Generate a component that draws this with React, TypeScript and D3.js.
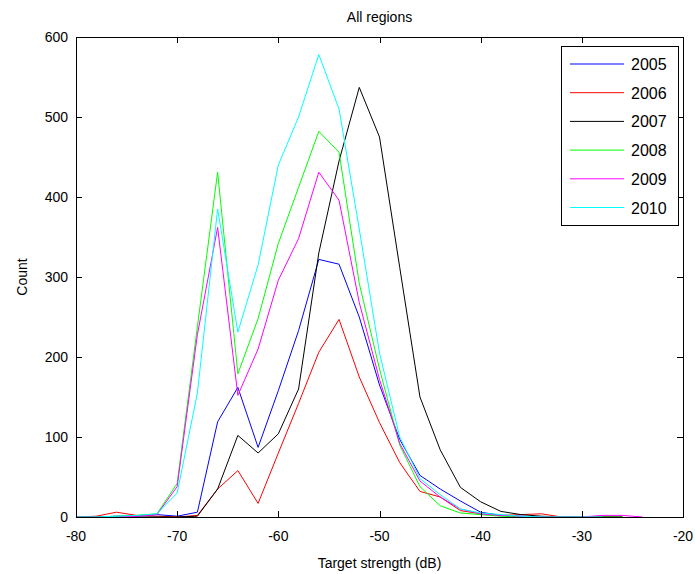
import React, { useEffect, useRef } from "react";
import * as d3 from "d3";

// bin centres (dB), 2 dB wide
const bins = [
  -80, -78, -76, -74, -72, -70, -68, -66, -64, -62, -60, -58, -56, -54, -52,
  -50, -48, -46, -44, -42, -40, -38, -36, -34, -32, -30, -28, -26, -24,
];

const years = ["2005", "2006", "2007", "2008", "2009", "2010"];
const colors = ["#0000ff", "#ff0000", "#000000", "#00ff00", "#ff00ff", "#00ffff"];

const counts2005 = [0, 0, 1, 1, 3, 1, 6, 119, 162, 87, 158, 233, 322, 316, 250, 165, 97, 52, 35, 20, 6, 2, 1, 0, 0, 0, 0, 0];
const counts2006 = [0, 1, 6, 2, 1, 0, 2, 35, 58, 17, 80, 142, 206, 247, 175, 118, 68, 32, 25, 8, 4, 2, 3, 4, 0, 0, 0, 0];
const counts2007 = [0, 0, 0, 0, 0, 0, 1, 35, 102, 80, 104, 160, 330, 445, 537, 475, 312, 150, 84, 37, 19, 7, 3, 1, 0, 0, 0, 0];
const counts2008 = [0, 0, 1, 2, 4, 42, 238, 431, 179, 248, 342, 412, 482, 456, 292, 185, 90, 38, 14, 5, 3, 1, 0, 0, 0, 0, 0, 0];
const counts2009 = [0, 0, 0, 1, 3, 38, 228, 362, 152, 210, 296, 348, 431, 396, 268, 172, 92, 45, 25, 10, 4, 2, 1, 0, 0, 0, 2, 2, 0];
const counts2010 = [0, 0, 1, 2, 4, 30, 155, 385, 231, 315, 440, 500, 578, 510, 360, 205, 100, 48, 28, 10, 5, 3, 1, 0, 0, 0, 0];

const series = [counts2005, counts2006, counts2007, counts2008, counts2009, counts2010];

const xTicks = [-80, -70, -60, -50, -40, -30, -20];
const yTicks = [0, 100, 200, 300, 400, 500, 600];

const W = 695;
const H = 574;
const left = 76;
const top = 37;
const right = 683;
const bottom = 517;
const font = "'Liberation Sans', Arial, sans-serif";

export default function App() {
  const ref = useRef<SVGSVGElement>(null);

  useEffect(() => {
    const svg = d3.select(ref.current);
    svg.selectAll("*").remove();

    const x = d3.scaleLinear().domain([-80, -20]).range([left, right]);
    const y = d3.scaleLinear().domain([0, 600]).range([bottom, top]);

    svg.append("rect").attr("width", W).attr("height", H).attr("fill", "#fff");

    const line = d3
      .line<number>()
      .x((d, i) => x(bins[i]))
      .y((d) => y(d));

    series.forEach((s, k) => {
      svg
        .append("path")
        .datum(s)
        .attr("d", line)
        .attr("fill", "none")
        .attr("stroke", colors[k])
        .attr("stroke-width", 1);
    });

    // box
    svg
      .append("rect")
      .attr("x", left + 0.5)
      .attr("y", top + 0.5)
      .attr("width", right - left)
      .attr("height", bottom - top)
      .attr("fill", "none")
      .attr("stroke", "#000");

    const tl = 6;
    const g = svg.append("g").attr("stroke", "#000").attr("stroke-width", 1);
    xTicks.forEach((t) => {
      const px = Math.round(x(t)) + 0.5;
      g.append("line").attr("x1", px).attr("x2", px).attr("y1", bottom).attr("y2", bottom - tl);
      g.append("line").attr("x1", px).attr("x2", px).attr("y1", top).attr("y2", top + tl);
    });
    yTicks.forEach((t) => {
      const py = Math.round(y(t)) + 0.5;
      g.append("line").attr("x1", left).attr("x2", left + tl).attr("y1", py).attr("y2", py);
      g.append("line").attr("x1", right).attr("x2", right - tl).attr("y1", py).attr("y2", py);
    });

    svg
      .append("g")
      .selectAll("text")
      .data(xTicks)
      .enter()
      .append("text")
      .attr("x", (d) => x(d))
      .attr("y", bottom + 24)
      .attr("text-anchor", "middle")
      .attr("font-family", font)
      .attr("font-size", 14)
      .text((d) => d);

    svg
      .append("g")
      .selectAll("text")
      .data(yTicks)
      .enter()
      .append("text")
      .attr("x", left - 8)
      .attr("y", (d) => y(d) + 5)
      .attr("text-anchor", "end")
      .attr("font-family", font)
      .attr("font-size", 14)
      .text((d) => d);

    svg
      .append("text")
      .attr("x", (left + right) / 2)
      .attr("y", 22)
      .attr("text-anchor", "middle")
      .attr("font-family", font)
      .attr("font-size", 14)
      .text("All regions");

    svg
      .append("text")
      .attr("x", (left + right) / 2)
      .attr("y", 568)
      .attr("text-anchor", "middle")
      .attr("font-family", font)
      .attr("font-size", 14)
      .text("Target strength (dB)");

    svg
      .append("text")
      .attr("transform", `translate(27,${(top + bottom) / 2}) rotate(-90)`)
      .attr("text-anchor", "middle")
      .attr("font-family", font)
      .attr("font-size", 14)
      .text("Count");

    // legend
    const lg = svg.append("g");
    lg.append("rect")
      .attr("x", 561.5)
      .attr("y", 46.5)
      .attr("width", 117)
      .attr("height", 179)
      .attr("fill", "#fff")
      .attr("stroke", "#000");
    years.forEach((yr, k) => {
      const cy = 64 + k * 28.7;
      lg.append("line")
        .attr("x1", 570)
        .attr("x2", 624)
        .attr("y1", cy)
        .attr("y2", cy)
        .attr("stroke", colors[k]);
      lg.append("text")
        .attr("x", 631)
        .attr("y", cy + 6)
        .attr("font-family", font)
        .attr("font-size", 16)
        .text(yr);
    });
  }, []);

  return (
    <div style={{ position: "absolute", left: 0, top: 0 }}>
      <svg ref={ref} width={W} height={H} style={{ display: "block" }} />
    </div>
  );
}
